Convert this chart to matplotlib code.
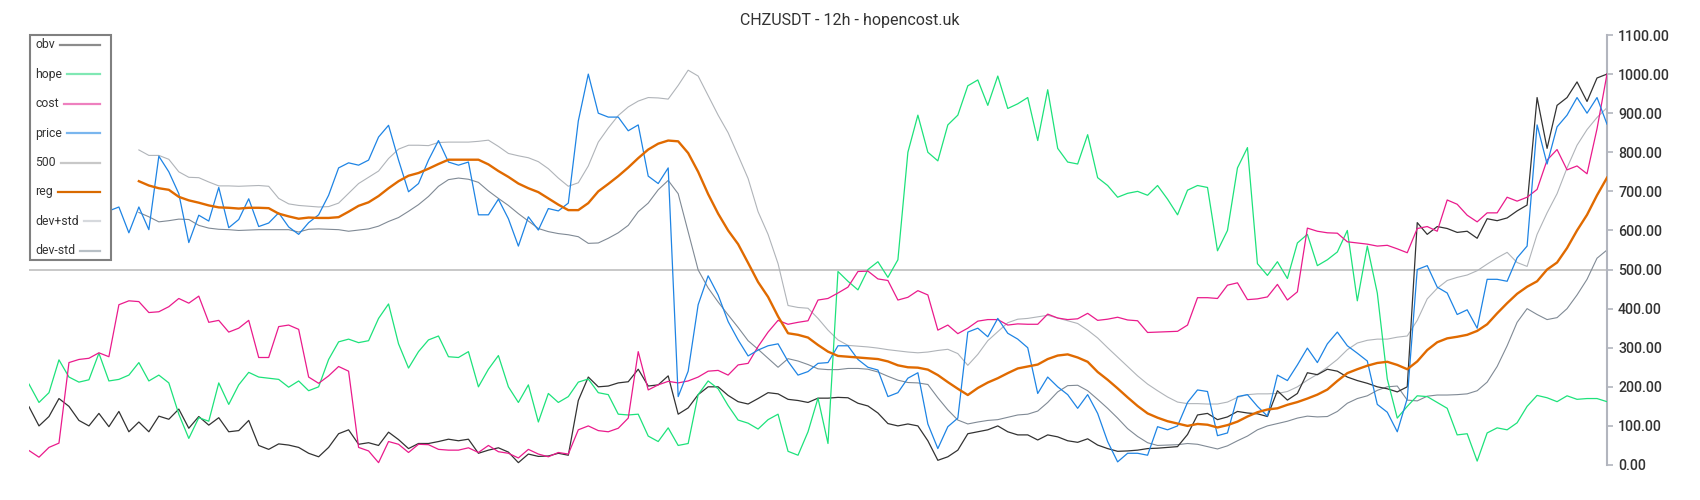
import numpy as np
import matplotlib
matplotlib.use("Agg")
import matplotlib.pyplot as plt
from matplotlib.lines import Line2D
from matplotlib.patches import Rectangle

plt.rcParams['font.family'] = ['Roboto', 'DejaVu Sans']

TITLE = "CHZUSDT - 12h - hopencost.uk"

# ------------------- DATA (one value per 12h candle) -------------------
price = [813, 760, 700, 720, 660, 690, 640, 680, 650, 660,
         594, 660, 602, 790, 750, 694, 569, 639, 624, 710,
         607, 628, 681, 610, 619, 645, 609, 590, 620, 640,
         690, 760, 773, 767, 780, 839, 869, 780, 699, 720,
         780, 830, 775, 767, 775, 640, 640, 680, 630, 560,
         635, 601, 656, 650, 670, 880, 1000, 900, 890, 890,
         855, 870, 739, 720, 760, 175, 240, 410, 484, 435,
         367, 320, 279, 294, 305, 310, 265, 230, 239, 260,
         262, 305, 305, 270, 250, 243, 175, 185, 222, 236,
         105, 42, 98, 120, 340, 350, 328, 375, 337, 322,
         300, 183, 225, 200, 180, 145, 180, 132, 60, 8,
         30, 30, 25, 98, 90, 100, 160, 192, 188, 75,
         82, 175, 180, 150, 125, 230, 216, 256, 299, 262,
         310, 340, 305, 286, 266, 155, 135, 85, 170, 500,
         510, 455, 440, 385, 397, 350, 475, 475, 470, 530,
         560, 870, 770, 865, 895, 940, 900, 940, 872]

obv = [149, 100, 124, 170, 150, 114, 100, 132, 98, 137,
       85, 110, 85, 125, 117, 143, 94, 124, 102, 121,
       85, 88, 114, 50, 40, 54, 51, 45, 30, 21,
       45, 80, 90, 53, 57, 50, 84, 65, 42, 55,
       55, 60, 66, 62, 66, 30, 38, 44, 33, 6,
       28, 22, 23, 30, 25, 165, 225, 200, 202, 210,
       213, 245, 202, 205, 228, 130, 146, 180, 200, 200,
       178, 162, 156, 170, 185, 182, 168, 165, 160, 171,
       171, 173, 172, 158, 151, 133, 106, 100, 105, 100,
       62, 12, 21, 38, 80, 85, 90, 100, 85, 77,
       77, 64, 77, 72, 62, 58, 67, 51, 42, 35,
       36, 38, 42, 43, 45, 47, 78, 128, 132, 116,
       123, 137, 133, 131, 124, 190, 166, 183, 236, 231,
       245, 240, 225, 216, 209, 200, 195, 187, 200, 620,
       590, 610, 605, 595, 598, 580, 630, 625, 632, 650,
       665, 940, 810, 920, 940, 980, 930, 990, 1000]

hope = [207, 160, 185, 269, 225, 212, 218, 286, 215, 219,
        230, 262, 215, 230, 210, 130, 68, 121, 112, 210,
        155, 205, 237, 225, 222, 219, 199, 215, 190, 200,
        270, 315, 322, 313, 318, 375, 412, 310, 248, 290,
        320, 330, 277, 275, 290, 200, 245, 280, 200, 160,
        205, 110, 183, 160, 175, 212, 220, 185, 180, 130,
        128, 130, 74, 60, 95, 50, 55, 180, 215, 195,
        152, 115, 107, 92, 116, 130, 35, 25, 85, 171,
        55, 495, 470, 448, 500, 520, 480, 525, 800, 895,
        800, 778, 870, 895, 970, 985, 920, 995, 912, 924,
        940, 830, 960, 810, 775, 770, 845, 735, 715, 685,
        695, 700, 690, 715, 680, 640, 703, 715, 710, 548,
        600, 760, 812, 515, 485, 520, 477, 568, 590, 510,
        525, 545, 600, 420, 560, 440, 220, 120, 150, 177,
        175, 160, 145, 77, 80, 10, 82, 95, 90, 108,
        150, 178, 172, 162, 177, 168, 170, 170, 162]

cost = [37, 20, 45, 56, 262, 270, 273, 287, 277, 410,
        420, 418, 390, 392, 405, 426, 414, 432, 365, 370,
        340, 350, 370, 275, 275, 354, 358, 347, 225, 209,
        228, 252, 240, 45, 36, 6, 60, 53, 32, 53,
        52, 40, 38, 38, 44, 32, 50, 34, 30, 18,
        40, 28, 21, 32, 28, 90, 100, 88, 85, 94,
        120, 290, 192, 205, 214, 210, 215, 225, 240, 242,
        230, 256, 260, 303, 340, 370, 360, 365, 369, 422,
        426, 440, 455, 495, 496, 476, 472, 422, 429, 446,
        435, 345, 358, 336, 350, 368, 372, 372, 358, 361,
        360, 360, 386, 376, 372, 374, 388, 370, 373, 378,
        371, 369, 339, 340, 341, 342, 358, 428, 428, 426,
        460, 466, 423, 425, 430, 462, 422, 443, 606, 598,
        594, 593, 571, 568, 565, 560, 562, 553, 543, 605,
        610, 598, 678, 667, 639, 622, 645, 645, 685, 675,
        685, 705, 780, 807, 755, 765, 745, 860, 1000]

# regression line and its bands start after a warm-up of 11 candles
WARMUP = 11
reg = [726, 715, 708, 704, 686, 677, 671, 664, 659,
       658, 656, 658, 658, 657, 643, 636, 630, 633, 632,
       632, 634, 648, 663, 672, 688, 708, 726, 740, 747,
       758, 770, 781, 781, 781, 781, 769, 752, 737, 720,
       708, 698, 682, 666, 652, 652, 670, 700, 719, 739,
       761, 785, 807, 822, 830, 828, 798, 750, 693, 643,
       600, 565, 517, 468, 430, 380, 337, 333, 326, 307,
       290, 279, 277, 275, 273, 271, 265, 255, 250, 249,
       244, 230, 212, 195, 179, 197, 211, 222, 235, 247,
       252, 257, 271, 280, 283, 275, 264, 238, 218, 196,
       173, 151, 132, 121, 112, 106, 100, 105, 103, 96,
       102, 111, 124, 135, 142, 145, 154, 161, 170, 180,
       193, 215, 235, 245, 254, 261, 264, 256, 245, 265,
       294, 314, 324, 328, 333, 343, 360, 388, 414, 438,
       456, 470, 500, 518, 555, 600, 640, 690, 735]

dev_plus = [806, 792, 792, 782, 750, 736, 735, 724, 714,
            714, 713, 714, 715, 713, 682, 668, 664, 662, 660,
            661, 670, 695, 720, 736, 752, 784, 808, 818, 818,
            817, 825, 826, 826, 826, 828, 831, 815, 797, 791,
            786, 776, 758, 734, 713, 722, 765, 826, 862, 894,
            916, 931, 940, 939, 936, 971, 1010, 995, 945, 895,
            850, 792, 733, 648, 590, 515, 408, 403, 401, 375,
            345, 320, 306, 304, 302, 299, 295, 292, 289, 287,
            289, 293, 296, 285, 255, 283, 318, 341, 364, 373,
            375, 379, 383, 376, 369, 362, 345, 325, 300, 276,
            252, 228, 207, 190, 174, 161, 157, 157, 156, 156,
            161, 173, 180, 182, 182, 183, 188, 200, 217, 232,
            250, 270, 295, 312, 319, 322, 322, 327, 330, 370,
            425, 452, 472, 480, 486, 497, 514, 530, 544, 518,
            508, 590, 645, 694, 760, 818, 858, 889, 914]

dev_minus = [646, 635, 622, 625, 629, 628, 613, 606, 603,
             602, 600, 601, 602, 602, 602, 602, 596, 603, 604,
             603, 602, 598, 601, 604, 611, 623, 633, 649, 666,
             687, 713, 730, 734, 731, 723, 701, 682, 664, 643,
             624, 605, 597, 592, 589, 584, 567, 568, 580, 594,
             613, 648, 670, 704, 728, 694, 597, 499, 453, 417,
             384, 352, 318, 296, 273, 250, 272, 266, 257, 246,
             244, 244, 247, 247, 245, 238, 227, 217, 211, 210,
             206, 172, 141, 115, 105, 110, 114, 116, 122, 128,
             130, 138, 160, 187, 203, 204, 190, 168, 145, 120,
             93, 73, 57, 50, 51, 52, 55, 53, 47, 41,
             49, 62, 74, 90, 100, 106, 112, 120, 125, 123,
             124, 137, 158, 170, 177, 191, 200, 202, 166, 164,
             176, 179, 179, 180, 182, 190, 212, 252, 305, 365,
             400, 385, 372, 377, 400, 435, 475, 529, 550]

LEVEL = 500
y_ticks = [0, 100, 200, 300, 400, 500, 600, 700, 800, 900, 1000, 1100]

# legend entries: label, sample colour (drawn lighter than the lines)
legend_labels = ["obv", "hope", "cost", "price", "500", "reg", "dev+std", "dev-std"]
legend_colors = ["#8c8c8c", "#80e8b4", "#ee80bf", "#7ab6ee", "#c8c8c8", "#d96a00", "#d6d9dd", "#b7bfc5"]

# ------------------- PLOT -------------------
W, H = 1700, 500
n = len(price)
x = np.arange(n)
pad = [np.nan] * WARMUP
reg_full = np.array(pad + reg, dtype=float)
plus_full = np.array(pad + dev_plus, dtype=float)
minus_full = np.array(pad + dev_minus, dtype=float)

fig = plt.figure(figsize=(W / 100, H / 100), dpi=100)
ax = fig.add_axes([29 / W, 35 / H, 1578 / W, 430 / H])

ax.axhline(LEVEL, color="#c8c8c8", lw=1.4, zorder=1)
ax.plot(x, obv, color="#333333", lw=0.9, zorder=3)
ax.plot(x, hope, color="#1de27b", lw=0.9, zorder=3)
ax.plot(x, cost, color="#ea1b8c", lw=0.9, zorder=3)
ax.plot(x, price, color="#1e84e4", lw=0.9, zorder=3)
ax.plot(x, reg_full, color="#e06a00", lw=1.7, zorder=4)
ax.plot(x, plus_full, color="#b0b4b9", lw=0.8, zorder=2)
ax.plot(x, minus_full, color="#808a95", lw=0.8, zorder=2)

ax.set_xlim(0, n - 1)
ax.set_ylim(0, 1100)
ax.set_xticks([])
ax.yaxis.tick_right()
ax.set_yticks(y_ticks)
ax.set_yticklabels([f"{v:.2f}" for v in y_ticks])
for side in ["left", "top", "bottom"]:
    ax.spines[side].set_visible(False)
ax.spines["right"].set_color("#b2b5be")
ax.spines["right"].set_linewidth(1.5)
ax.tick_params(axis="y", colors="#b2b5be", labelcolor="#333333",
               length=4, width=1.2, pad=4, labelsize=10.2)
for lab in ax.get_yticklabels():
    lab.set_fontweight("medium")

fig.text(0.5, 1 - 20 / H, TITLE, ha="center", va="center",
         fontsize=11.5, color="#333333")

# ------------------- LEGEND (drawn by hand) -------------------
box = Rectangle((30 / W, 1 - 260 / H), 81 / W, 225 / H, transform=fig.transFigure,
                facecolor="white", edgecolor="#808080", lw=1.5, zorder=5)
fig.add_artist(box)
renderer = fig.canvas.get_renderer()
for k, (name, col) in enumerate(zip(legend_labels, legend_colors)):
    yf = 1 - (45 + k * 29.4) / H
    t = fig.text(35 / W, yf, name, fontsize=8.8, color="#333333",
                 ha="left", va="center", zorder=6)
    bb = t.get_window_extent(renderer)
    fig.add_artist(Line2D([(bb.x1 + 5) / W, 100 / W], [yf, yf],
                          transform=fig.transFigure, color=col, lw=1.6, zorder=6))

fig.savefig("out.png", dpi=100)
